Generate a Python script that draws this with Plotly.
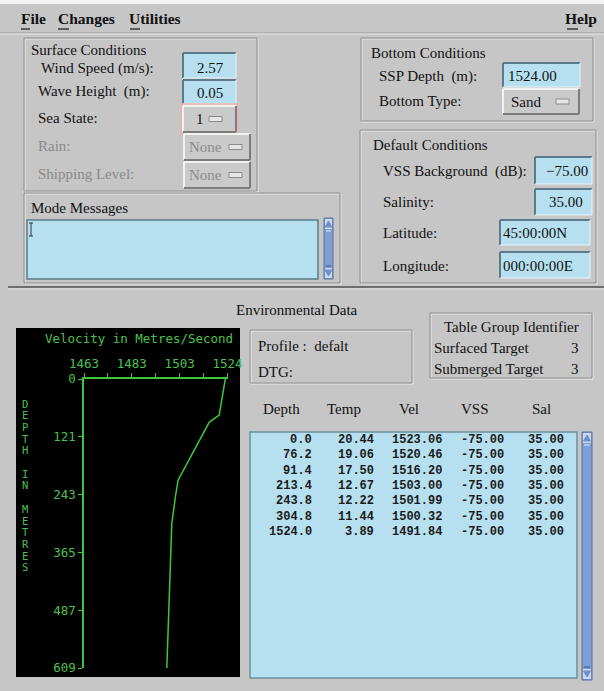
import plotly.graph_objects as go

# ---------------- data ----------------
depth = [0.0, 76.2, 91.4, 213.4, 243.8, 304.8, 1524.0]
temp = [20.44, 19.06, 17.50, 12.67, 12.22, 11.44, 3.89]
vel = [1523.06, 1520.46, 1516.20, 1503.00, 1501.99, 1500.32, 1491.84]
vss = [-75.00, -75.00, -75.00, -75.00, -75.00, -75.00, -75.00]
sal = [35.00, 35.00, 35.00, 35.00, 35.00, 35.00, 35.00]

vel_tick_vals = [1463, 1473.17, 1483.33, 1493.5, 1503.67, 1513.83, 1524]
vel_tick_text = ["1463", "", "1483", "", "1503", "", "1524"]
depth_tick_vals = [0, 121.8, 243.6, 365.4, 487.2, 609]
depth_tick_text = ["0", "121", "243", "365", "487", "609"]
vel_range = [1463, 1524]
depth_range = [609, 0]

W, H = 604, 691
BG = "#c6c6c6"
FIELD = "#b6e0ef"
GREEN = "#3cc83c"
TGREEN = "#4cc04c"
SERIF = "Liberation Serif"
MONO = "DejaVu Sans Mono"
DIS = "#8a8a8a"
FS = 15


def px(x):
    return x / W


def py(y):
    return 1 - y / H


shapes = []
annotations = []


def rect(x0, y0, x1, y1, fill=None, line=None, width=1):
    shapes.append(dict(type="rect", xref="paper", yref="paper",
                       x0=px(x0), y0=py(y0), x1=px(x1), y1=py(y1),
                       fillcolor=fill if fill else "rgba(0,0,0,0)",
                       line=dict(color=line if line else "rgba(0,0,0,0)", width=width if line else 0),
                       layer="below"))


def seg(x0, y0, x1, y1, color, width=1):
    shapes.append(dict(type="line", xref="paper", yref="paper",
                       x0=px(x0), y0=py(y0), x1=px(x1), y1=py(y1),
                       line=dict(color=color, width=width), layer="below"))


def path(d, fill, line=None):
    shapes.append(dict(type="path", xref="paper", yref="paper", path=d,
                       fillcolor=fill, line=dict(color=line or fill, width=1), layer="below"))


def text(x, y, s, size=FS, color="#111111", family=SERIF, anchor="left", bold=False, height=None):
    if bold:
        s = "<b>" + s + "</b>"
    a = dict(x=px(x), y=py(y), xref="paper", yref="paper", text=s,
             showarrow=False, xanchor=anchor, yanchor="middle",
             font=dict(size=size, color=color, family=family),
             borderpad=0)
    if height:
        a["height"] = height
    annotations.append(a)


def frame(x0, y0, x1, y1):
    rect(x0 + 1, y0 + 1, x1 + 1, y1 + 1, None, "#ececec", 1)
    rect(x0, y0, x1, y1, None, "#8e8e8e", 1)


def field(x0, y0, x1, y1):
    rect(x0, y0, x1, y1, FIELD, None)
    seg(x0, y0, x1, y0, "#5c7a88", 2)
    seg(x0, y0, x0, y1, "#5c7a88", 2)
    seg(x0, y1, x1, y1, "#e6f4fa", 1)
    seg(x1, y0, x1, y1, "#e6f4fa", 1)


def button(x0, y0, x1, y1, label, lx, icon_x, color="#111111"):
    rect(x0, y0, x1, y1, "#cacaca", None)
    seg(x0, y0, x1, y0, "#f2f2f2", 2)
    seg(x0, y0, x0, y1, "#f2f2f2", 2)
    seg(x0, y1, x1, y1, "#7c7c7c", 2)
    seg(x1, y0, x1, y1, "#7c7c7c", 2)
    ym = (y0 + y1) / 2
    text(lx, ym, label, FS, color)
    rect(icon_x, ym - 2.5, icon_x + 13, ym + 2.5, "#e6e6e6", "#8a8a8a", 1)


def scrollbar(x0, y0, x1, y1):
    rect(x0, y0, x1, y1, "#7c9fd6", "#5a6f98", 1)
    rect(x0 + 1, y0 + 1, x1 - 1, y0 + 11, "#c8d8f0", None)
    rect(x0 + 1, y1 - 11, x1 - 1, y1 - 1, "#c8d8f0", None)
    cx = (x0 + x1) / 2
    path(f"M {px(cx - 3.5)} {py(y0 + 9)} L {px(cx + 3.5)} {py(y0 + 9)} L {px(cx)} {py(y0 + 3)} Z", "#6f8fc8")
    path(f"M {px(cx - 3.5)} {py(y1 - 9)} L {px(cx + 3.5)} {py(y1 - 9)} L {px(cx)} {py(y1 - 3)} Z", "#6f8fc8")
    seg(x0 + 2, y0 + 13, x1 - 2, y0 + 13, "#dfe8f8", 1)
    seg(x0 + 2, y1 - 13, x1 - 2, y1 - 13, "#3f5680", 1)


# ---------------- top area ----------------
rect(0, 0, W, 4, "#f4f4f4", None)
seg(0, 33, W, 33, "#9a9a9a", 1)
seg(0, 34, W, 34, "#e8e8e8", 1)
text(20, 19, "File", 15.5, bold=True)
text(57, 19, "Changes", 15.5, bold=True)
text(128, 19, "Utilities", 15.5, bold=True)
text(598, 19, "Help", 15.5, bold=True, anchor="right")
for a, b in [(21, 30), (58, 69), (130, 140), (567, 578)]:
    seg(a, 29, b, 29, "#222222", 1.3)

# Surface conditions
frame(24, 38, 257, 191)
text(30, 50, "Surface Conditions")
text(40, 68, "Wind Speed (m/s):")
text(37, 92, "Wave Height  (m):")
text(37, 118, "Sea State:")
text(37, 146, "Rain:", color=DIS)
text(37, 174, "Shipping Level:", color=DIS)
field(183, 53, 236, 78)
text(210, 68, "2.57", anchor="center")
field(183, 80, 236, 104)
text(210, 93, "0.05", anchor="center")
rect(181, 104, 238, 134, None, "#f0b4b4", 1.5)
button(183, 106, 236, 132, "1", 195, 209)
button(184, 134, 250, 160, "None", 188, 229, DIS)
button(184, 162, 250, 188, "None", 188, 229, DIS)

# Mode Messages
frame(24, 193, 340, 283)
text(30, 208, "Mode Messages")
rect(27, 220, 318, 279, FIELD, "#5c7a88", 1.5)
seg(31, 223, 31, 236, "#333333", 1)
seg(29, 223, 33, 223, "#333333", 1)
seg(29, 236, 33, 236, "#333333", 1)
scrollbar(324, 218, 333, 279)

# Bottom Conditions
frame(361, 38, 593, 121)
text(370, 53, "Bottom Conditions")
text(378, 76, "SSP Depth  (m):")
text(378, 101, "Bottom Type:")
field(503, 63, 580, 87)
text(507, 76, "1524.00")
button(503, 89, 579, 114, "Sand", 510, 556)

# Default Conditions
frame(360, 130, 596, 283)
text(372, 145, "Default Conditions")
text(382, 171, "VSS Background  (dB):")
text(382, 202, "Salinity:")
text(382, 233, "Latitude:")
text(382, 266, "Longitude:")
field(535, 157, 592, 184)
text(589, 171, "\u221275.00", anchor="right")
field(535, 189, 592, 215)
text(584, 202, "35.00", anchor="right")
field(500, 220, 590, 245)
text(502, 233, "45:00:00N")
field(500, 252, 590, 278)
text(502, 266, "000:00:00E")

# separator
seg(8, 287, W, 287, "#6e6e6e", 2)
seg(8, 289, W, 289, "#e4e4e4", 1)

# ---------------- lower area ----------------
text(297, 310, "Environmental Data", anchor="center")
rect(16, 328, 240, 677, "#000000", None)
text(139, 338, "Velocity in Metres/Second", 12.5, TGREEN, MONO, anchor="center")
ylabel = "DEPTH IN METRES"
for i, ch in enumerate(ylabel):
    if ch != " ":
        text(25, 403 + i * 11.7, ch, 10.5, TGREEN, MONO, anchor="center", height=11)

frame(250, 330, 412, 383)
text(257, 346, "Profile :  defalt")
text(257, 372, "DTG:")
frame(430, 313, 592, 378)
text(511, 327, "Table Group Identifier", anchor="center")
text(433, 348, "Surfaced Target")
text(580, 348, "3", anchor="right")
text(433, 369, "Submerged Target")
text(580, 369, "3", anchor="right")

headers = ["Depth", "Temp", "Vel", "VSS", "Sal"]
header_x = [281, 344, 409, 475, 541]
for hx, h in zip(header_x, headers):
    text(hx, 409, h, anchor="center")

rect(250, 432, 577, 678, FIELD, "#6f8e9e", 1.5)
scrollbar(582, 432, 592, 680)

col_right = [313, 375, 443, 505, 565]
rows = list(zip(depth, temp, vel, vss, sal))
for r, (d, t, v, s, sl) in enumerate(rows):
    yy = 440 + r * 15.3
    vals = [f"{d:.1f}", f"{t:.2f}", f"{v:.2f}", f"{s:.2f}", f"{sl:.2f}"]
    for cx, val in zip(col_right, vals):
        text(cx, yy, val, 12, "#1a1a1a", "Liberation Mono", anchor="right", bold=True)

# ---------------- figure ----------------
fig = go.Figure()
fig.add_trace(go.Scatter(x=vel, y=depth, mode="lines",
                         line=dict(color=GREEN, width=1.5), hoverinfo="skip",
                         showlegend=False))

fig.update_layout(
    width=W, height=H,
    margin=dict(l=0, r=0, t=0, b=0, autoexpand=False),
    paper_bgcolor=BG, plot_bgcolor="#000000",
    shapes=shapes, annotations=annotations,
    showlegend=False,
    xaxis=dict(domain=[84 / W, 227.5 / W], range=vel_range, side="top",
               automargin=False,
               tickmode="array", tickvals=vel_tick_vals, ticktext=vel_tick_text,
               showgrid=False, zeroline=False, showline=True,
               linecolor=GREEN, linewidth=1.5, ticks="outside", ticklen=4,
               tickcolor=GREEN, tickwidth=1,
               tickfont=dict(family=MONO, size=12.5, color=TGREEN)),
    yaxis=dict(domain=[1 - 668 / H, 1 - 379 / H], range=depth_range,
               automargin=False,
               tickmode="array", tickvals=depth_tick_vals, ticktext=depth_tick_text,
               showgrid=False, zeroline=False, showline=True,
               linecolor=GREEN, linewidth=1.5, ticks="outside", ticklen=4,
               tickcolor=GREEN, tickwidth=1,
               tickfont=dict(family=MONO, size=12.5, color=TGREEN)),
)

fig.write_html("out.html", config={"displayModeBar": False},
               post_script="document.body.style.margin='0px';document.body.style.padding='0px';")
